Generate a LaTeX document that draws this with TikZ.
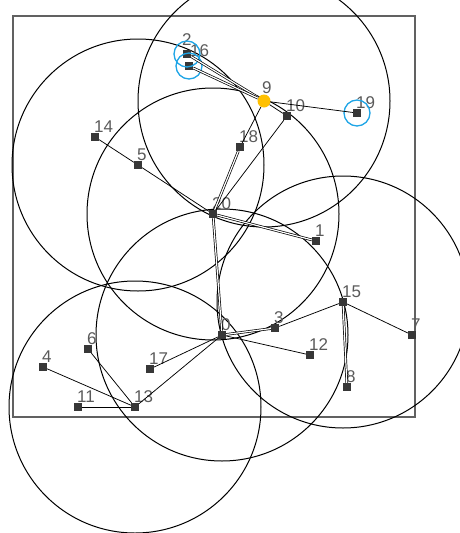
\documentclass[tikz,border=0pt]{standalone}
\usepackage{fontspec}
\setmainfont{Liberation Sans}
\pgfdeclarelayer{background}
\pgfsetlayers{background,main}
\definecolor{selblue}{RGB}{30,165,230}
\definecolor{hub}{RGB}{255,192,0}
\definecolor{mark}{RGB}{55,55,55}
\definecolor{lab}{RGB}{90,90,90}
\begin{document}
\begin{tikzpicture}[x=1pt,y=-1pt,
  sq/.style={fill=mark,minimum size=8pt,inner sep=0pt,draw=none},
  hubnode/.style={circle,fill=hub,minimum size=13pt,inner sep=0pt,draw=none},
  lbl/.style={anchor=base west,inner sep=0pt,text=lab,font=\fontsize{17}{17}\selectfont},
  link/.style={draw=black,line width=0.75pt},
  dlink/.style={draw=black,double=white,line width=0.7pt,double distance=1.2pt},
  rangecirc/.style={draw=black,line width=1pt},
  selring/.style={circle,draw=selblue,line width=1.3pt,minimum size=26pt,inner sep=0pt}]
\useasboundingbox (0,0) rectangle (460,533);
% labels (drawn first so markers cover them)
\node[lbl] (l0) at (221,330) {0};
\node[lbl] (l1) at (315,236) {1};
\node[lbl] (l2) at (182,45) {2};
\node[lbl] (l3) at (274,323) {3};
\node[lbl] (l4) at (42,362) {4};
\node[lbl] (l5) at (137,160) {5};
\node[lbl] (l6) at (87,344) {6};
\node[lbl] (l7) at (411,330) {7};
\node[lbl] (l8) at (346,382) {8};
\node[lbl] (l9) at (262,93) {9};
\node[lbl] (l10) at (286,111) {10};
\node[lbl] (l11) at (77,402) {11};
\node[lbl] (l12) at (309,350) {12};
\node[lbl] (l13) at (134,402) {13};
\node[lbl] (l14) at (94,132) {14};
\node[lbl] (l15) at (342,297) {15};
\node[lbl] (l16) at (190,56) {16};
\node[lbl] (l17) at (149,364) {17};
\node[lbl] (l18) at (239,142) {18};
\node[lbl] (l19) at (356,108) {19};
\node[lbl] (l20) at (212,209) {20};
% sensor nodes
\node[sq] (n0) at (222,335) {};
\node[sq] (n1) at (316,241) {};
\node[sq] (n2) at (187,54) {};
\node[sq] (n3) at (275,328) {};
\node[sq] (n4) at (43,367) {};
\node[sq] (n5) at (138,165) {};
\node[sq] (n6) at (88,349) {};
\node[sq] (n7) at (412,335) {};
\node[sq] (n8) at (347,387) {};
\node[hubnode] (n9) at (264,101) {};
\node[sq] (n10) at (287,116) {};
\node[sq] (n11) at (78,407) {};
\node[sq] (n12) at (310,355) {};
\node[sq] (n13) at (135,407) {};
\node[sq] (n14) at (95,137) {};
\node[sq] (n15) at (343,302) {};
\node[sq] (n16) at (189,66) {};
\node[sq] (n17) at (150,369) {};
\node[sq] (n18) at (240,147) {};
\node[sq] (n19) at (357,113) {};
\node[sq] (n20) at (213,214) {};
% selected rings
\node[selring] (s2) at (n2) {};
\node[selring] (s16) at (n16) {};
\node[selring] (s19) at (n19) {};
% field and ranges
\begin{pgfonlayer}{background}
\draw[draw=black!62,line width=1.3pt] (13,16) rectangle (415,417);
\foreach \c in {n9,n5,n20,n0,n15,n13}
  \draw[rangecirc] (\c.center) circle (126pt);
\end{pgfonlayer}
% links
\draw[dlink] (n2) -- (n9);
\draw[dlink] (n16) -- (n9);
\draw[link] (n9) -- (n10);
\draw[link] (n9) -- (n19);
\draw[link] (n9) -- (n18);
\draw[dlink] (n18) -- (n20);
\draw[link] (n10) -- (n20);
\draw[link] (n14) -- (n5);
\draw[link] (n5) -- (n20);
\draw[dlink] (n20) -- (n1);
\draw[dlink] (n20) -- (n0);
\draw[dlink] (n0) -- (n3);
\draw[link] (n3) -- (n15);
\draw[link] (n0) -- (n12);
\draw[link] (n0) -- (n17);
\draw[link] (n0) -- (n13);
\draw[link] (n15) -- (n7);
\draw[dlink] (n15) -- (n8);
\draw[link] (n13) -- (n4);
\draw[link] (n13) -- (n11);
\draw[link] (n13) -- (n6);
\end{tikzpicture}
\end{document}
